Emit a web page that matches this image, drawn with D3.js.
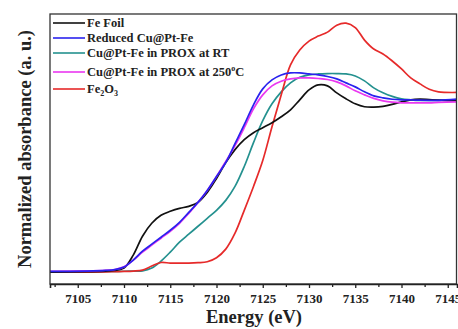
<!DOCTYPE html>
<html>
<head>
<meta charset="utf-8">
<script src="https://cdnjs.cloudflare.com/ajax/libs/d3/7.8.5/d3.min.js"></script>
<style>
  body { margin: 0; background: #fff; }
  svg text { font-family: "Liberation Serif", "Times New Roman", serif; font-weight: bold; fill: #222; }
</style>
</head>
<body>
<svg id="chart" width="458" height="329"></svg>
<script>
// energy grid (eV)
const energy = [7102, 7106, 7108, 7109, 7110, 7111, 7112, 7113, 7114, 7115, 7116, 7117, 7118, 7119, 7120,
  7121, 7122, 7123, 7124, 7125, 7126, 7127, 7128, 7129, 7130, 7131, 7132, 7133, 7134, 7135,
  7136, 7137, 7138, 7139, 7140, 7141, 7142, 7143, 7144, 7146];

const feFoil = [0, 0.002, 0.005, 0.008, 0.02, 0.085, 0.18, 0.245, 0.285, 0.305, 0.32, 0.33, 0.35, 0.40, 0.47,
  0.55, 0.615, 0.665, 0.70, 0.725, 0.75, 0.78, 0.815, 0.865, 0.915, 0.94, 0.935, 0.90, 0.87, 0.845,
  0.83, 0.828, 0.832, 0.842, 0.855, 0.865, 0.868, 0.866, 0.864, 0.86];

const reduced = [0.003, 0.005, 0.008, 0.012, 0.025, 0.06, 0.105, 0.14, 0.175, 0.21, 0.25, 0.30, 0.35, 0.41, 0.48,
  0.55, 0.645, 0.74, 0.84, 0.92, 0.965, 0.99, 1.0, 1.0, 0.995, 0.99, 0.982, 0.97, 0.95, 0.93,
  0.905, 0.885, 0.875, 0.868, 0.865, 0.865, 0.863, 0.862, 0.862, 0.868];

const proxRT = [0, 0.001, 0.002, 0.003, 0.004, 0.005, 0.006, 0.02, 0.055, 0.10, 0.15, 0.19, 0.23, 0.27, 0.31,
  0.36, 0.43, 0.53, 0.65, 0.76, 0.845, 0.905, 0.95, 0.978, 0.99, 0.995, 0.997, 0.997, 0.995, 0.985,
  0.96, 0.925, 0.90, 0.882, 0.87, 0.865, 0.862, 0.862, 0.862, 0.86];

const prox250 = [0.004, 0.006, 0.009, 0.013, 0.026, 0.06, 0.10, 0.135, 0.17, 0.205, 0.245, 0.295, 0.35, 0.41, 0.48,
  0.555, 0.635, 0.725, 0.82, 0.89, 0.935, 0.958, 0.97, 0.975, 0.975, 0.972, 0.967, 0.955, 0.935, 0.91,
  0.89, 0.872, 0.86, 0.853, 0.85, 0.85, 0.85, 0.85, 0.852, 0.855];

const fe2o3 = [0, 0, 0.001, 0.002, 0.003, 0.005, 0.01, 0.03, 0.048, 0.045, 0.045, 0.045, 0.047, 0.052, 0.072,
  0.115, 0.195, 0.31, 0.43, 0.56, 0.73, 0.89, 1.04, 1.115, 1.16, 1.185, 1.205, 1.24, 1.25, 1.228,
  1.165, 1.12, 1.095, 1.06, 1.02, 0.975, 0.945, 0.918, 0.905, 0.902];

const xTicks = [7105, 7110, 7115, 7120, 7125, 7130, 7135, 7140, 7145];

const seriesList = [
  { key: "foil", values: feFoil, color: "#111111" },
  { key: "reduced", values: reduced, color: "#2a22ee" },
  { key: "rt", values: proxRT, color: "#24918f" },
  { key: "250", values: prox250, color: "#ea38f0" },
  { key: "fe2o3", values: fe2o3, color: "#e62a2a" }
];

const svg = d3.select("#chart");
const margin = { left: 50, top: 14, right: 1, bottom: 45 };
const W = 458, H = 329;

const x = d3.scaleLinear().domain([7102, 7146]).range([margin.left, W - margin.right]);
const y = d3.scaleLinear().domain([-0.06, 1.296]).range([H - margin.bottom, margin.top]);

// curves
const line = d3.line()
  .x(d => x(d[0]))
  .y(d => y(d[1]))
  .curve(d3.curveCatmullRom.alpha(0.5));

// draw in back-to-front order similar to the figure
const drawOrder = ["rt", "fe2o3", "foil", "250", "reduced"];
drawOrder.forEach(k => {
  let s = seriesList.find(d => d.key == k);
  svg.append("path")
    .datum(energy.map((e, i) => [e, s.values[i]]))
    .attr("d", line)
    .attr("fill", "none")
    .attr("stroke", s.color)
    .attr("stroke-width", 1.7)
    .attr("stroke-linejoin", "round");
});

// frame
svg.append("rect")
  .attr("x", x.range()[0])
  .attr("y", y.range()[1])
  .attr("width", x.range()[1] - x.range()[0] - 0.5)
  .attr("height", y.range()[0] - y.range()[1])
  .attr("fill", "none")
  .attr("stroke", "#333")
  .attr("stroke-width", 1.3);

// x axis, major + minor ticks
const minorTicks = d3.range(7102.5, 7146, 5);
svg.append("g")
  .attr("transform", `translate(0,${y.range()[0]})`)
  .call(d3.axisBottom(x).tickValues(minorTicks).tickSize(3).tickFormat(""))
  .call(g => g.select(".domain").remove())
  .call(g => g.selectAll("line").attr("stroke", "#222").attr("stroke-width", 1.3));

const xAxis = svg.append("g")
  .attr("transform", `translate(0,${y.range()[0]})`)
  .call(d3.axisBottom(x).tickValues(xTicks).tickSize(4).tickPadding(6).tickFormat(d3.format("d")));
xAxis.select(".domain").attr("stroke", "#222").attr("stroke-width", 1.6);
xAxis.selectAll("line").attr("stroke", "#222").attr("stroke-width", 1.3);
xAxis.selectAll("text")
  .style("font-family", "'Liberation Serif', 'Times New Roman', serif")
  .style("font-weight", "bold")
  .style("font-size", "13px")
  .attr("fill", "#222");

// axis titles
svg.append("text")
  .attr("x", 254)
  .attr("y", 323)
  .attr("text-anchor", "middle")
  .style("font-size", "18.5px")
  .text("Energy (eV)");

svg.append("text")
  .attr("transform", "translate(31,149) rotate(-90)")
  .attr("text-anchor", "middle")
  .style("font-size", "18.5px")
  .text("Normalized absorbance (a. u.)");

// legend
const legendRows = [
  { key: "foil", y: 23 },
  { key: "reduced", y: 38 },
  { key: "rt", y: 53 },
  { key: "250", y: 72 },
  { key: "fe2o3", y: 89 }
];
const legend = svg.append("g");
legendRows.forEach(r => {
  let s = seriesList.find(d => d.key == r.key);
  legend.append("line")
    .attr("x1", 53).attr("x2", 85)
    .attr("y1", r.y).attr("y2", r.y)
    .attr("stroke", s.color)
    .attr("stroke-width", 1.6);
  let t = legend.append("text")
    .attr("x", 87)
    .attr("y", r.y + 4)
    .style("font-size", "12.5px");
  if (r.key == "foil") t.text("Fe Foil");
  if (r.key == "reduced") t.text("Reduced Cu@Pt-Fe");
  if (r.key == "rt") t.text("Cu@Pt-Fe in PROX at RT");
  if (r.key == "250") {
    t.append("tspan").text("Cu@Pt-Fe in PROX at 250");
    t.append("tspan").attr("dy", -5).style("font-size", "8px").text("o");
    t.append("tspan").attr("dy", 5).text("C");
  }
  if (r.key == "fe2o3") {
    t.append("tspan").text("Fe");
    t.append("tspan").attr("dy", 3).style("font-size", "8px").text("2");
    t.append("tspan").attr("dy", -3).text("O");
    t.append("tspan").attr("dy", 3).style("font-size", "8px").text("3");
  }
});
</script>
</body>
</html>
